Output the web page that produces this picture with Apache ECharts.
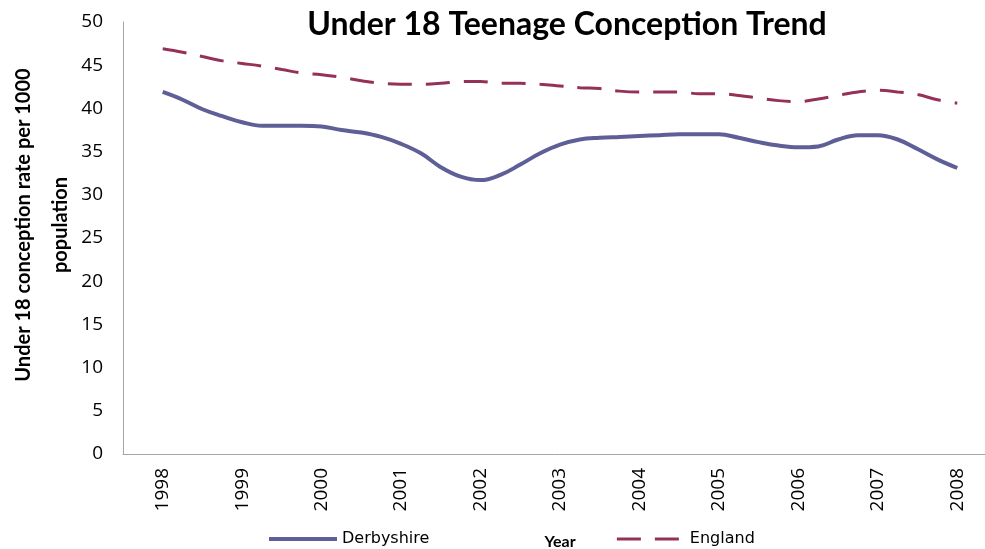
<!DOCTYPE html>
<html lang="en">
<head>
<meta charset="UTF-8">
<title>Under 18 Teenage Conception Trend</title>
<script src="https://cdn.jsdelivr.net/npm/echarts@6/dist/echarts.min.js"></script>
<style>
  html, body { margin: 0; padding: 0; background: #fff; }
  #main { width: 985px; height: 549px; }
</style>
</head>
<body>
<div id="main"></div>
<script type="text/javascript">
// year tick labels
var years = ['1998', '1999', '2000', '2001', '2002', '2003', '2004', '2005', '2006', '2007', '2008'];

// quarterly points (decimal years)
var periods = [
  1998, 1998.25, 1998.5, 1998.75,
  1999, 1999.25, 1999.5, 1999.75,
  2000, 2000.25, 2000.5, 2000.75,
  2001, 2001.25, 2001.5, 2001.75,
  2002, 2002.25, 2002.5, 2002.75,
  2003, 2003.25, 2003.5, 2003.75,
  2004, 2004.25, 2004.5, 2004.75,
  2005, 2005.25, 2005.5, 2005.75,
  2006, 2006.25, 2006.5, 2006.75,
  2007, 2007.25, 2007.5, 2007.75,
  2008
];

var derbyshire = [
  41.9, 41.0, 39.9, 39.1,
  38.4, 38.0, 38.0, 38.0,
  37.9, 37.5, 37.2, 36.7,
  35.9, 34.8, 33.2, 32.1,
  31.7, 32.3, 33.5, 34.8,
  35.8, 36.4, 36.6, 36.7,
  36.8, 36.9, 37.0, 37.0,
  37.0, 36.6, 36.1, 35.7,
  35.5, 35.6, 36.4, 36.9,
  36.9, 36.4, 35.3, 34.1,
  33.1
];

var england = [
  46.9, 46.5, 46.0, 45.5,
  45.2, 44.9, 44.5, 44.1,
  43.9, 43.6, 43.2, 42.9,
  42.8, 42.8, 42.9, 43.1,
  43.1, 42.9, 42.9, 42.8,
  42.6, 42.4, 42.3, 42.0,
  41.9, 41.9, 41.9, 41.7,
  41.7, 41.5, 41.2, 40.9,
  40.8, 41.1, 41.5, 41.9,
  42.1, 41.9, 41.6, 41.0,
  40.6
];

function pairs(xs, ys) {
  var out = [];
  for (var i = 0; i < xs.length; i++) {
    out.push([xs[i], ys[i]]);
  }
  return out;
}

var myChart = echarts.init(document.getElementById('main'));

var axisGrey = '#A6A6A6';

var option = {
  backgroundColor: '#fff',
  animation: false,
  title: {
    text: 'Under 18 Teenage Conception Trend',
    left: 562,
    textAlign: 'center',
    top: 4,
    textStyle: { fontFamily: 'Lato', fontWeight: 'bold', fontSize: 32, color: '#000' }
  },
  grid: { left: 123, right: -12, top: 22, bottom: 95, containLabel: false, outerBoundsMode: 'none' },
  legend: {
    left: 262,
    top: 526,
    itemWidth: 68,
    itemHeight: 12,
    itemGap: 186,
    itemStyle: { color: 'transparent', borderWidth: 0, opacity: 0 },
    lineStyle: { width: 'inherit' },
    textStyle: { fontFamily: 'DejaVu Sans', fontSize: 16, color: '#000' },
    data: ['Derbyshire', 'England']
  },
  xAxis: [
    {
      type: 'category',
      data: years,
      boundaryGap: true,
      name: 'Year',
      nameLocation: 'middle',
      nameGap: 80,
      nameMoveOverlap: false,
      nameTextStyle: { fontFamily: 'Lato', fontWeight: 'bold', fontSize: 16, color: '#000' },
      axisLine: { lineStyle: { color: axisGrey, width: 1 } },
      axisTick: { show: false },
      axisLabel: { rotate: 90, margin: 14, fontFamily: 'Open Sans', fontSize: 19, color: '#000' },
      splitLine: { show: false }
    },
    {
      type: 'value',
      min: 1997.5,
      max: 2008.5,
      show: false,
      splitLine: { show: false }
    }
  ],
  yAxis: {
    type: 'value',
    min: 0,
    max: 50,
    interval: 5,
    name: 'Under 18 conception rate per 1000\npopulation',
    nameLocation: 'middle',
    nameGap: 44,
    nameMoveOverlap: false,
    nameTextStyle: {
      fontFamily: 'Lato', fontWeight: 'bold', fontSize: 20, color: '#000', lineHeight: 37,
      padding: [0, 0, 0, 26]
    },
    axisLine: { show: true, lineStyle: { color: axisGrey, width: 1 } },
    axisTick: { show: false },
    axisLabel: { margin: 20, fontFamily: 'Open Sans', fontSize: 19, color: '#000' },
    splitLine: { show: false }
  },
  series: [
    {
      name: 'Derbyshire',
      type: 'line',
      xAxisIndex: 1,
      data: pairs(periods, derbyshire),
      smooth: 0.4,
      symbol: 'none',
      color: '#5F5F98',
      lineStyle: { color: '#5F5F98', width: 4 }
    },
    {
      name: 'England',
      type: 'line',
      xAxisIndex: 1,
      data: pairs(periods, england),
      smooth: 0.4,
      symbol: 'none',
      color: '#953158',
      lineStyle: { color: '#953158', width: 3, type: [24, 14] }
    }
  ]
};

myChart.setOption(option);
</script>
</body>
</html>
